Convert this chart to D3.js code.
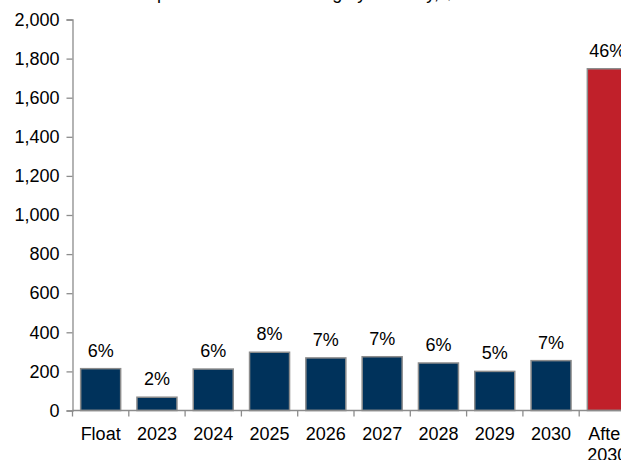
<!DOCTYPE html>
<html>
<head>
<meta charset="utf-8">
<script src="https://cdn.jsdelivr.net/npm/d3@7"></script>
<style>
  html, body { margin: 0; padding: 0; background: #fff; overflow: hidden; }
  svg { display: block; font-family: "Liberation Sans", Arial, sans-serif; }
</style>
</head>
<body>
<svg id="chart"></svg>
<script>
// debt outstanding by maturity
const categories = ["Float", "2023", "2024", "2025", "2026", "2027", "2028", "2029", "2030", "After 2030"]
const amounts = [214, 68, 212, 298, 269, 275, 243, 200, 255, 1748]
const shares = ["6%", "2%", "6%", "8%", "7%", "7%", "6%", "5%", "7%", "46%"]
const yTicks = [0, 200, 400, 600, 800, 1000, 1200, 1400, 1600, 1800, 2000]
const titleText = "Chart 3: Amount of public debt outstanding by maturity, $bn"

const w = 621
const h = 460
const left = 72.5
const band = 56.3
const fs = 18

const svg = d3.select("#chart")
  .attr("width", w)
  .attr("height", h)

// one extra empty slot so the last bar runs off the right edge like the original
const xb = d3.scaleBand()
  .domain(categories.concat(["_pad"]))
  .range([left, left + band * 11])

const y = d3.scaleLinear()
  .domain([0, 2000])
  .range([410.5, 19.5])

// title, mostly cut off at the top
svg.append("text")
  .attr("x", 2)
  .attr("y", -1.5)
  .attr("font-size", fs)
  .attr("fill", "#000")
  .text(titleText)

const bars = svg.append("g")
bars.selectAll("rect")
  .data(categories)
  .enter()
  .append("rect")
  .attr("x", d => xb(d) + (band - 40) / 2)
  .attr("width", 40)
  .attr("y", (d, i) => y(amounts[i]))
  .attr("height", (d, i) => y(0) - y(amounts[i]))
  .attr("fill", (d, i) => i === categories.length - 1 ? "#C0202A" : "#00325B")
  .attr("stroke", "#8c8c8c")
  .attr("stroke-width", 1.5)

bars.selectAll("text")
  .data(categories)
  .enter()
  .append("text")
  .attr("x", d => xb(d) + band / 2)
  .attr("y", (d, i) => y(amounts[i]) - 12)
  .attr("text-anchor", "middle")
  .attr("font-size", fs)
  .attr("fill", "#000")
  .text((d, i) => shares[i])

// y axis
const yAxis = d3.axisLeft(y)
  .tickValues(yTicks)
  .tickSize(6)
  .tickPadding(7)
  .tickFormat(d3.format(","))

const gy = svg.append("g")
  .attr("transform", `translate(${left}, 0)`)
  .call(yAxis)
gy.select(".domain").attr("stroke", "#8c8c8c").attr("stroke-width", 1.3)
gy.selectAll(".tick line").attr("stroke", "#8c8c8c").attr("stroke-width", 1.3)
gy.selectAll(".tick text")
  .attr("font-size", fs)
  .attr("font-family", "Liberation Sans, Arial, sans-serif")
  .attr("fill", "#000")

// x axis
const gx = svg.append("g")
  .attr("transform", `translate(0, ${y(0)})`)
gx.append("line")
  .attr("x1", left)
  .attr("x2", left + band * 11)
  .attr("stroke", "#8c8c8c")
  .attr("stroke-width", 1.3)
gx.selectAll(".tk")
  .data(categories.concat(["_pad"]))
  .enter()
  .append("line")
  .attr("class", "tk")
  .attr("x1", d => xb(d))
  .attr("x2", d => xb(d))
  .attr("y1", 0)
  .attr("y2", 6)
  .attr("stroke", "#8c8c8c")
  .attr("stroke-width", 1.3)

const labels = gx.selectAll(".lbl")
  .data(categories)
  .enter()
  .append("text")
  .attr("class", "lbl")
  .attr("text-anchor", "middle")
  .attr("font-size", fs)
  .attr("fill", "#000")
labels.each(function(d) {
  const words = d === "After 2030" ? ["After", "2030"] : [d]
  const t = d3.select(this)
  words.forEach((word, k) => {
    t.append("tspan")
      .attr("x", xb(d) + band / 2)
      .attr("y", 29 + k * 21)
      .text(word)
  })
})
</script>
</body>
</html>
